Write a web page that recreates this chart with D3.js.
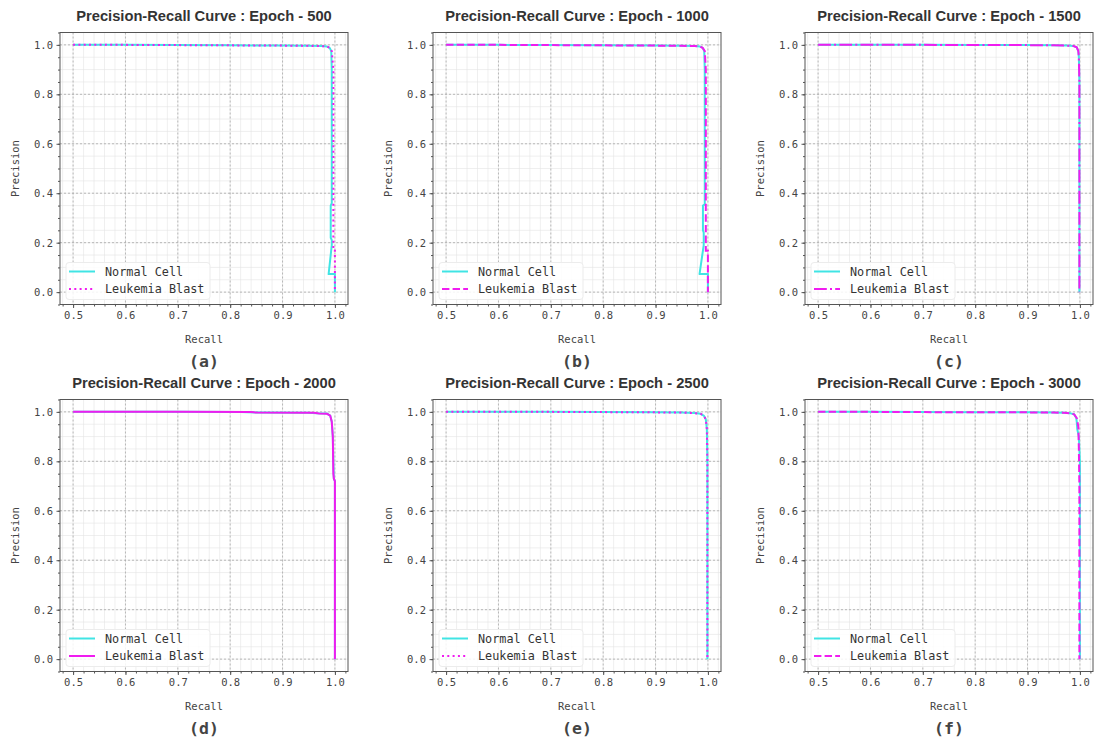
<!DOCTYPE html>
<html>
<head>
<meta charset="utf-8">
<script src="https://cdn.jsdelivr.net/npm/d3@7"></script>
<style>
  body { margin: 0; background: #fff; }
  svg { display: block; }
  .tick text { font-family: "DejaVu Sans Mono", monospace; }
</style>
</head>
<body>
<div id="chart"></div>
<script>
// Panel metadata
var epochs = [500, 1000, 1500, 2000, 2500, 3000];
var panelTags = ["(a)", "(b)", "(c)", "(d)", "(e)", "(f)"];
var leukemiaStyles = ["dotted", "dashed", "dashdot", "solid", "dotted", "dashed"];
var seriesNames = ["Normal Cell", "Leukemia Blast"];
var xTicks = [0.5, 0.6, 0.7, 0.8, 0.9, 1.0];
var yTicks = [0.0, 0.2, 0.4, 0.6, 0.8, 1.0];

// Curves (recall, precision)
var normalRecallA = [0.5, 0.6, 0.7, 0.8, 0.9, 0.95, 0.975, 0.985, 0.990, 0.993, 0.994, 0.994, 0.992, 0.992, 0.994, 0.994, 0.988, 1.0, 1.0];
var normalPrecA   = [1.0, 1.0, 0.999, 0.998, 0.997, 0.996, 0.995, 0.993, 0.988, 0.975, 0.90, 0.36, 0.35, 0.22, 0.21, 0.19, 0.073, 0.073, 0.0];
var leukRecallA   = [0.5, 0.6, 0.7, 0.8, 0.9, 0.95, 0.975, 0.985, 0.990, 0.994, 0.997, 0.997, 1.0, 1.0];
var leukPrecA     = [1.0, 1.0, 0.999, 0.998, 0.997, 0.996, 0.995, 0.993, 0.988, 0.975, 0.90, 0.167, 0.167, 0.0];

var normalRecallB = [0.5, 0.6, 0.7, 0.8, 0.9, 0.95, 0.975, 0.985, 0.990, 0.993, 0.994, 0.994, 0.9905, 0.9905, 0.992, 0.992, 0.984, 1.0, 1.0];
var normalPrecB   = [1.0, 1.0, 0.999, 0.998, 0.997, 0.996, 0.995, 0.993, 0.988, 0.975, 0.90, 0.355, 0.35, 0.25, 0.24, 0.19, 0.073, 0.073, 0.0];
var leukRecallB   = [0.5, 0.6, 0.7, 0.8, 0.9, 0.95, 0.975, 0.985, 0.990, 0.994, 0.996, 0.996, 1.0, 1.0];
var leukPrecB     = [1.0, 1.0, 0.999, 0.998, 0.997, 0.996, 0.995, 0.993, 0.988, 0.975, 0.90, 0.167, 0.167, 0.0];

var normalRecallC = [0.5, 0.6, 0.7, 0.8, 0.9, 0.95, 0.975, 0.988, 0.994, 0.997, 0.998, 0.999, 0.999];
var normalPrecC   = [1.0, 1.0, 1.0, 0.999, 0.999, 0.998, 0.997, 0.995, 0.99, 0.975, 0.95, 0.85, 0.0];
var leukRecallC   = [0.5, 0.6, 0.7, 0.8, 0.9, 0.95, 0.975, 0.988, 0.994, 0.997, 0.998, 0.999, 0.999];
var leukPrecC     = [1.0, 1.0, 1.0, 0.999, 0.999, 0.998, 0.997, 0.995, 0.99, 0.975, 0.95, 0.85, 0.0];

var normalRecallD = [0.5, 0.7, 0.82, 0.86, 0.95, 0.965, 0.985, 0.991, 0.994, 0.996, 0.997, 0.998, 1.0, 1.0];
var normalPrecD   = [1.0, 1.0, 0.999, 0.997, 0.996, 0.994, 0.993, 0.985, 0.96, 0.90, 0.80, 0.73, 0.72, 0.0];
var leukRecallD   = [0.5, 0.7, 0.84, 0.85, 0.96, 0.97, 0.985, 0.991, 0.994, 0.996, 0.997, 0.998, 1.0, 1.0];
var leukPrecD     = [1.0, 1.0, 0.999, 0.997, 0.996, 0.993, 0.992, 0.985, 0.96, 0.90, 0.75, 0.73, 0.72, 0.0];

var normalRecallE = [0.5, 0.6, 0.7, 0.8, 0.9, 0.95, 0.975, 0.986, 0.992, 0.996, 0.998, 0.999, 0.999];
var normalPrecE   = [1.0, 1.0, 1.0, 0.999, 0.998, 0.997, 0.995, 0.992, 0.985, 0.97, 0.93, 0.80, 0.0];
var leukRecallE   = [0.5, 0.6, 0.7, 0.8, 0.9, 0.95, 0.975, 0.986, 0.992, 0.996, 0.998, 0.999, 0.999];
var leukPrecE     = [1.0, 1.0, 1.0, 0.999, 0.998, 0.997, 0.995, 0.992, 0.985, 0.97, 0.93, 0.80, 0.0];

var normalRecallF = [0.5, 0.6, 0.7, 0.8, 0.9, 0.95, 0.97, 0.982, 0.989, 0.993, 0.994, 0.995, 0.998, 1.0, 1.0];
var normalPrecF   = [1.0, 1.0, 0.999, 0.998, 0.998, 0.997, 0.996, 0.994, 0.99, 0.975, 0.96, 0.93, 0.90, 0.80, 0.0];
var leukRecallF   = [0.5, 0.6, 0.7, 0.8, 0.9, 0.95, 0.97, 0.982, 0.989, 0.994, 0.997, 0.998, 0.999, 0.999];
var leukPrecF     = [1.0, 1.0, 0.999, 0.998, 0.998, 0.997, 0.996, 0.994, 0.99, 0.975, 0.94, 0.85, 0.70, 0.0];

var normalCurves = [[normalRecallA, normalPrecA], [normalRecallB, normalPrecB], [normalRecallC, normalPrecC],
                    [normalRecallD, normalPrecD], [normalRecallE, normalPrecE], [normalRecallF, normalPrecF]];
var leukCurves = [[leukRecallA, leukPrecA], [leukRecallB, leukPrecB], [leukRecallC, leukPrecC],
                  [leukRecallD, leukPrecD], [leukRecallE, leukPrecE], [leukRecallF, leukPrecF]];

var cyan = "#40e4e4";
var magenta = "#f01cf0";
var dashes = { solid: null, dotted: "2,3.3", dashed: "7.4,3.2", dashdot: "12.8,3.2,2,3.2" };

var W = 1094, H = 744;
var colLeft = [60, 433, 805];
var rowTop = [32.5, 399.5];
var pw = 288, ph = 272;
var mono = "'DejaVu Sans Mono', monospace";

var svg = d3.select("#chart").append("svg")
    .attr("width", W)
    .attr("height", H);

function toPoints(c) {
    return c[0].map(function(r, i) { return [r, c[1][i]]; });
}

epochs.forEach(function(epoch, i) {
    var left = colLeft[i % 3], top = rowTop[Math.floor(i / 3)];

    var x = d3.scaleLinear().domain([0.475, 1.025]).range([0, pw]);
    var y = d3.scaleLinear().domain([-0.05, 1.05]).range([ph, 0]);

    var g = svg.append("g").attr("transform", "translate(" + left + "," + top + ")");

    // Minor grid
    var xMinor = d3.range(0.48, 1.021, 0.02);
    var yMinor = d3.range(-0.05, 1.051, 0.05);
    g.append("g").selectAll("line").data(xMinor).enter().append("line")
        .attr("x1", d => x(d)).attr("x2", d => x(d)).attr("y1", 0).attr("y2", ph)
        .style("stroke", "#e4e4e4").style("stroke-width", 0.6);
    g.append("g").selectAll("line").data(yMinor).enter().append("line")
        .attr("x1", 0).attr("x2", pw).attr("y1", d => y(d)).attr("y2", d => y(d))
        .style("stroke", "#e4e4e4").style("stroke-width", 0.6);

    // Major grid
    g.append("g").selectAll("line").data(xTicks).enter().append("line")
        .attr("x1", d => x(d)).attr("x2", d => x(d)).attr("y1", 0).attr("y2", ph)
        .style("stroke", "#a8a8a8").style("stroke-width", 0.8).style("stroke-dasharray", "2,2");
    g.append("g").selectAll("line").data(yTicks).enter().append("line")
        .attr("x1", 0).attr("x2", pw).attr("y1", d => y(d)).attr("y2", d => y(d))
        .style("stroke", "#a8a8a8").style("stroke-width", 0.8).style("stroke-dasharray", "2,2");

    // Minor ticks
    g.append("g").attr("transform", "translate(0," + ph + ")")
        .call(d3.axisBottom(x).tickValues(xMinor).tickSize(2).tickFormat(""))
        .call(a => a.select(".domain").remove())
        .selectAll("line").style("stroke", "#555");
    g.append("g")
        .call(d3.axisLeft(y).tickValues(yMinor).tickSize(2).tickFormat(""))
        .call(a => a.select(".domain").remove())
        .selectAll("line").style("stroke", "#555");

    // Major axes
    var xAxis = g.append("g").attr("transform", "translate(0," + ph + ")")
        .call(d3.axisBottom(x).tickValues(xTicks).tickSize(3.5).tickPadding(3.5).tickFormat(d3.format(".1f")));
    var yAxis = g.append("g")
        .call(d3.axisLeft(y).tickValues(yTicks).tickSize(3.5).tickPadding(3.5).tickFormat(d3.format(".1f")));
    [xAxis, yAxis].forEach(function(a) {
        a.select(".domain").remove();
        a.selectAll("line").style("stroke", "#555");
        a.selectAll("text").style("font-family", mono).style("font-size", "10.5px").style("fill", "#444");
    });

    // Curves
    var line = d3.line().x(d => x(d[0])).y(d => y(d[1]));
    g.append("path").datum(toPoints(normalCurves[i]))
        .attr("d", line)
        .style("fill", "none").style("stroke", cyan).style("stroke-width", 2)
        .style("stroke-linejoin", "round");
    g.append("path").datum(toPoints(leukCurves[i]))
        .attr("d", line)
        .style("fill", "none").style("stroke", magenta).style("stroke-width", 2)
        .style("stroke-dasharray", dashes[leukemiaStyles[i]]);

    // Frame
    g.append("rect").attr("width", pw).attr("height", ph)
        .style("fill", "none").style("stroke", "#555").style("stroke-width", 1);

    // Legend
    var lg = g.append("g").attr("transform", "translate(6," + (ph - 42) + ")");
    lg.append("rect").attr("width", 144).attr("height", 37).attr("rx", 3)
        .style("fill", "#fff").style("fill-opacity", 0.85).style("stroke", "#ececec");
    seriesNames.forEach(function(name, k) {
        var ly = 9 + k * 17.5;
        lg.append("line").attr("x1", 3).attr("x2", 29).attr("y1", ly).attr("y2", ly)
            .style("stroke", k === 0 ? cyan : magenta).style("stroke-width", 2)
            .style("stroke-dasharray", k === 0 ? null : dashes[leukemiaStyles[i]]);
        lg.append("text").attr("x", 39).attr("y", ly + 4)
            .style("font-family", mono).style("font-size", "11.8px").style("fill", "#333")
            .text(name);
    });

    // Titles and labels
    g.append("text").attr("x", pw / 2).attr("y", -11.5)
        .attr("text-anchor", "middle")
        .style("font-family", "'Liberation Sans', Arial, sans-serif")
        .style("font-size", "14.7px").style("font-weight", "bold").style("fill", "#333")
        .text("Precision-Recall Curve : Epoch - " + epoch);
    g.append("text").attr("x", pw / 2).attr("y", ph + 38.5)
        .attr("text-anchor", "middle")
        .style("font-family", mono).style("font-size", "10.5px").style("fill", "#444")
        .text("Recall");
    g.append("text")
        .attr("transform", "translate(-41," + (ph / 2) + ") rotate(-90)")
        .attr("text-anchor", "middle")
        .style("font-family", mono).style("font-size", "10.5px").style("fill", "#444")
        .text("Precision");
    g.append("text").attr("x", pw / 2).attr("y", ph + 62)
        .attr("text-anchor", "middle")
        .style("font-family", mono).style("font-size", "16.5px").style("font-weight", "bold").style("fill", "#444")
        .text(panelTags[i]);
});
</script>
</body>
</html>
